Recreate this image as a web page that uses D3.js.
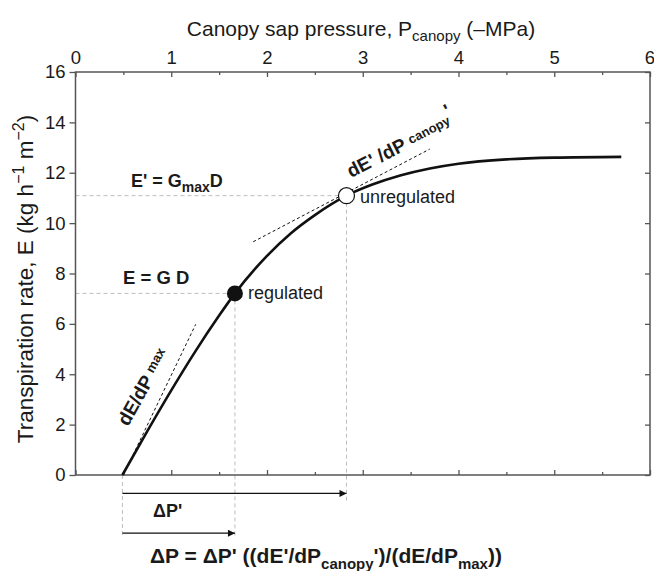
<!DOCTYPE html>
<html><head><meta charset="utf-8">
<script src="https://cdn.jsdelivr.net/npm/d3@7"></script>
<style>
body{margin:0;background:#fff}
svg{display:block}
text{font-family:"Liberation Sans",Arial,Helvetica,sans-serif;fill:#1a1a1a}
</style></head>
<body><svg id="c" width="654" height="571"></svg>
<script>
// ---- data ----
const xTicks = [0,1,2,3,4,5,6];
const xMinor = [0.5,1.5,2.5,3.5,4.5,5.5];
const yTicks = [0,2,4,6,8,10,12,14,16];
const curveP = [0.49,0.75,1.0,1.25,1.5,1.665,2.0,2.25,2.5,2.83,3.1,3.4,3.7,4.0,4.5,5.0,5.7];
const curveE = [0,1.74,3.36,4.9,6.33,7.21,8.70,9.60,10.32,11.09,11.53,11.90,12.17,12.36,12.53,12.60,12.63];
const regulated = [1.665,7.21];
const unregulated = [2.83,11.09];
const tanMaxP = [0.5,1.255], tanMaxE = [0,5.98];
const tanUnP = [1.856,3.70], tanUnE = [9.26,12.94];
const startP = 0.49;
const arrowRowsE = [-0.73,-2.31];      // arrow rows below axis (data units)
const guideBottomE = [-2.5,-2.46,-1.07]; // lower ends of vertical guides

(function(){
const x = d3.scaleLinear().domain([0,6]).range([75.5,650]);
const y = d3.scaleLinear().domain([0,16]).range([475,72]);
const svg = d3.select('#c');
const axCol = '#555';

svg.append('defs').append('marker').attr('id','ah').attr('viewBox','0 0 10 10')
  .attr('refX',10).attr('refY',5).attr('markerWidth',9).attr('markerHeight',7)
  .attr('markerUnits','userSpaceOnUse').attr('orient','auto')
  .append('path').attr('d','M0,0L10,5L0,10Z').attr('fill','#111');

const gGuide = svg.append('g').attr('stroke','#bdbdbd').attr('stroke-width',1).attr('stroke-dasharray','4,3').attr('fill','none');
gGuide.append('line').attr('x1',x(0)).attr('x2',x(unregulated[0])).attr('y1',y(unregulated[1])).attr('y2',y(unregulated[1]));
gGuide.append('line').attr('x1',x(0)).attr('x2',x(regulated[0])).attr('y1',y(regulated[1])).attr('y2',y(regulated[1]));
gGuide.append('line').attr('x1',x(startP)).attr('x2',x(startP)).attr('y1',y(0)).attr('y2',y(guideBottomE[0]));
gGuide.append('line').attr('x1',x(regulated[0])).attr('x2',x(regulated[0])).attr('y1',y(regulated[1])).attr('y2',y(guideBottomE[1]));
gGuide.append('line').attr('x1',x(unregulated[0])).attr('x2',x(unregulated[0])).attr('y1',y(unregulated[1])).attr('y2',y(guideBottomE[2]));

const axTop = svg.append('g').attr('transform',`translate(0,${y(16)})`)
  .call(d3.axisTop(x).tickValues(xTicks).tickSize(-5).tickPadding(8).tickFormat(d3.format('d')));
const axTopMinor = svg.append('g').attr('transform',`translate(0,${y(16)})`)
  .call(d3.axisTop(x).tickValues(xMinor).tickSize(-3).tickFormat(''));
const axBot = svg.append('g').attr('transform',`translate(0,${y(0)})`)
  .call(d3.axisBottom(x).tickValues(xTicks).tickSize(-5).tickFormat(''));
const axBotMinor = svg.append('g').attr('transform',`translate(0,${y(0)})`)
  .call(d3.axisBottom(x).tickValues(xMinor).tickSize(-3).tickFormat(''));
const axLeft = svg.append('g').attr('transform',`translate(${x(0)},0)`)
  .call(d3.axisLeft(y).tickValues(yTicks).tickSize(6).tickPadding(4).tickFormat(d3.format('d')));
const axRight = svg.append('g').attr('transform',`translate(${x(6)},0)`)
  .call(d3.axisRight(y).tickValues(yTicks).tickSize(-5).tickFormat(''));
[axTop,axTopMinor,axBot,axBotMinor,axLeft,axRight].forEach(g=>{
  g.select('.domain').remove();
  g.selectAll('line').attr('stroke',axCol).attr('stroke-width',1.3);
  g.selectAll('text').attr('font-size',18.5).attr('fill','#1a1a1a').attr('font-family','"Liberation Sans",Arial,sans-serif');
});
// keep the last top label inside the picture
axTop.selectAll('.tick').filter(d=>d===6).select('text').attr('text-anchor','end').attr('dx',4.5);
svg.append('rect').attr('x',x(0)).attr('y',y(16)).attr('width',x(6)-x(0)).attr('height',y(0)-y(16))
  .attr('fill','none').attr('stroke',axCol).attr('stroke-width',1.5);

const tg = svg.append('g').attr('stroke','#111').attr('stroke-width',1).attr('stroke-dasharray','3,2.5');
tg.append('line').attr('x1',x(tanMaxP[0])).attr('y1',y(tanMaxE[0])).attr('x2',x(tanMaxP[1])).attr('y2',y(tanMaxE[1]));
tg.append('line').attr('x1',x(tanUnP[0])).attr('y1',y(tanUnE[0])).attr('x2',x(tanUnP[1])).attr('y2',y(tanUnE[1]));

const pts = curveP.map((p,i)=>[p,curveE[i]]);
svg.append('path').datum(pts).attr('fill','none').attr('stroke','#111').attr('stroke-width',2.6)
  .attr('d',d3.line().x(d=>x(d[0])).y(d=>y(d[1])).curve(d3.curveMonotoneX));

svg.append('circle').attr('cx',x(regulated[0])).attr('cy',y(regulated[1])).attr('r',8).attr('fill','#111');
svg.append('circle').attr('cx',x(unregulated[0])).attr('cy',y(unregulated[1])).attr('r',8).attr('fill','#fff').attr('stroke','#111').attr('stroke-width',1.2);

arrowRowsE.forEach((e,i)=>{
  const endP = i===0 ? unregulated[0] : regulated[0];
  svg.append('line').attr('x1',x(startP)).attr('x2',x(endP)).attr('y1',y(e)).attr('y2',y(e))
    .attr('stroke','#111').attr('stroke-width',1.3).attr('marker-end','url(#ah)');
});

function rich(g, parts, size){
  const t = g.append('text').attr('font-size',size);
  let shift=0;
  parts.forEach(p=>{
    const s = p.s||0;
    const ts = t.append('tspan').text(p.t).attr('dy', s-shift);
    if(p.f) ts.attr('font-size',p.f);
    shift = s;
  });
  return t;
}

rich(svg.append('g').attr('transform','translate(361,36)'),
  [{t:'Canopy sap pressure, P'},{t:'canopy',s:5,f:15},{t:' (–MPa)',s:0}],21).attr('text-anchor','middle');
rich(svg.append('g').attr('transform','translate(33,279) rotate(-90)'),
  [{t:'Transpiration rate, E (kg h'},{t:'−1',s:-9,f:16},{t:' m',s:0},{t:'−2',s:-9,f:16},{t:')',s:0}],22.5).attr('text-anchor','middle');

rich(svg.append('g').attr('transform','translate(131,187)'),
  [{t:"E' = G"},{t:'max',s:5,f:14},{t:'D',s:0}],18).attr('font-weight','bold');
rich(svg.append('g').attr('transform','translate(123,284)'),
  [{t:'E = G D'}],18.5).attr('font-weight','bold');
svg.append('text').attr('x',248).attr('y',298.5).attr('font-size',18).text('regulated');
svg.append('text').attr('x',360).attr('y',203).attr('font-size',18).text('unregulated');

rich(svg.append('g').attr('transform','translate(351,178) rotate(-27)'),
  [{t:"dE' /dP "},{t:'canopy',s:-3,f:13},{t:"'",s:-10}],19).attr('font-weight','bold');
rich(svg.append('g').attr('transform','translate(128,427) rotate(-61)'),
  [{t:'dE/dP '},{t:'max',s:-4,f:13}],19).attr('font-weight','bold');

rich(svg.append('g').attr('transform','translate(153,517)'),
  [{t:"ΔP'"}],18).attr('font-weight','bold');
rich(svg.append('g').attr('transform','translate(150,563)'),
  [{t:"ΔP = ΔP' ((dE'/dP"},{t:'canopy',s:6,f:15},{t:"')/(dE/dP",s:0},{t:'max',s:6,f:15},{t:'))',s:0}],21).attr('font-weight','bold');
})();
</script></body></html>
